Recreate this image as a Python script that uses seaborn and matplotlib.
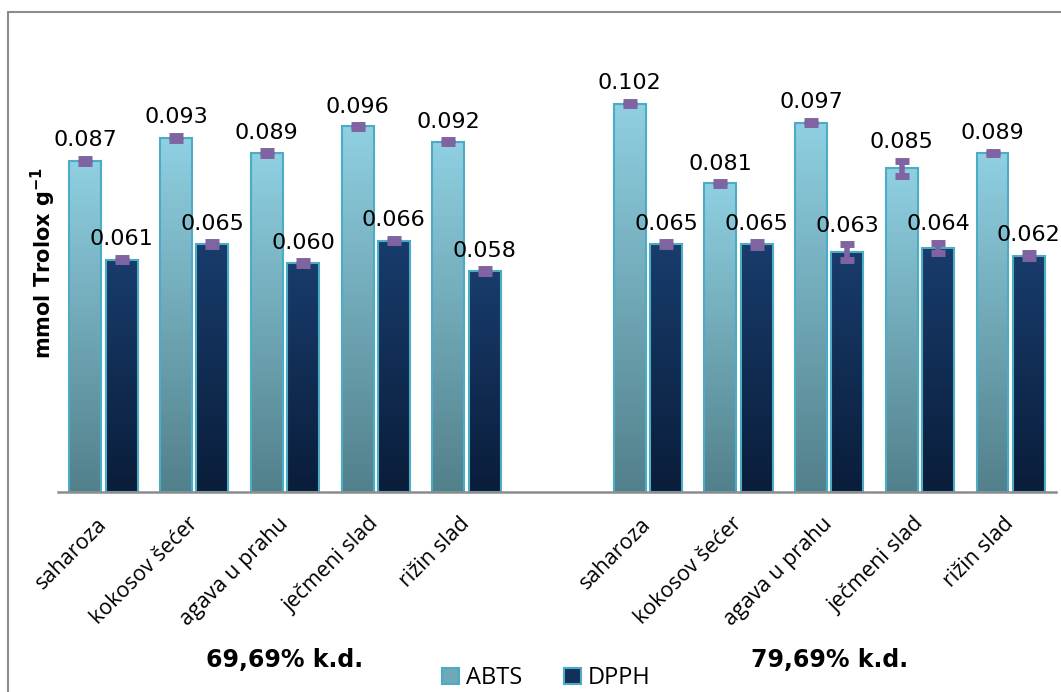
import numpy as np
import pandas as pd
import matplotlib
matplotlib.use('Agg')
import matplotlib.pyplot as plt
import seaborn as sns
from matplotlib.colors import LinearSegmentedColormap
from matplotlib.patches import Rectangle, Patch
from matplotlib.transforms import blended_transform_factory

# data
sweeteners = ['saharoza', 'kokosov šećer', 'agava u prahu', 'ječmeni slad', 'rižin slad']
groups = ['69,69% k.d.', '79,69% k.d.']
methods = ['ABTS', 'DPPH']

abts_69 = [0.087, 0.093, 0.089, 0.096, 0.092]
dpph_69 = [0.061, 0.065, 0.060, 0.066, 0.058]
abts_79 = [0.102, 0.081, 0.097, 0.085, 0.089]
dpph_79 = [0.065, 0.065, 0.063, 0.064, 0.062]

abts_69_err = [0.0005, 0.0005, 0.0005, 0.0003, 0.0003]
dpph_69_err = [0.0005, 0.0005, 0.0005, 0.0005, 0.0005]
abts_79_err = [0.0005, 0.0003, 0.0005, 0.0020, 0.0003]
dpph_79_err = [0.0005, 0.0006, 0.0020, 0.0014, 0.0006]

# long table, one slot key per group+sweetener, empty slot between the groups
rows = []
for g, ab, dp, abe, dpe in [(groups[0], abts_69, dpph_69, abts_69_err, dpph_69_err),
                            (groups[1], abts_79, dpph_79, abts_79_err, dpph_79_err)]:
    for i, s in enumerate(sweeteners):
        rows.append({'slot': g + '|' + s, 'label': s, 'method': 'ABTS', 'value': ab[i], 'err': abe[i]})
        rows.append({'slot': g + '|' + s, 'label': s, 'method': 'DPPH', 'value': dp[i], 'err': dpe[i]})
df = pd.DataFrame(rows)

order = [groups[0] + '|' + s for s in sweeteners] + ['gap'] + [groups[1] + '|' + s for s in sweeteners]
tick_labels = sweeteners + [''] + sweeteners

sns.set_style('white')
plt.rcParams['font.family'] = ['DejaVu Sans']
plt.rcParams['text.color'] = 'black'
plt.rcParams['xtick.color'] = 'black'
plt.rcParams['axes.labelcolor'] = 'black'

fig = plt.figure(figsize=(10.61, 6.92), dpi=100)
ax = fig.add_axes([0.0549, 0.2894, 0.9404, 0.66])

sns.barplot(data=df, x='slot', y='value', hue='method', order=order, hue_order=methods,
            palette=['#86c6d8', '#16355f'], width=0.8, gap=0.12, errorbar=None,
            edgecolor='#4bacc6', linewidth=1.5, legend=False, ax=ax)

ax.set_ylim(0, 0.12)
ax.set_xlim(-0.5, len(order) - 0.5)

grad_colors = {'ABTS': ('#8fd0e2', '#52808b'), 'DPPH': ('#183c6c', '#0a1d3a')}
lookup = df.set_index(['slot', 'method'])

for m, cont in zip(methods, ax.containers):
    top, bottom = grad_colors[m]
    cmap = LinearSegmentedColormap.from_list('g' + m, [bottom, top])
    for bar in cont:
        x0, w, h = bar.get_x(), bar.get_width(), bar.get_height()
        if not np.isfinite(h) or h == 0:
            continue
        im = ax.imshow(np.linspace(0, 1, 256).reshape(-1, 1), extent=[x0, x0 + w, 0, h],
                       origin='lower', aspect='auto', cmap=cmap, zorder=1.5)
        im.set_clip_path(bar)
        bar.set_facecolor('none')
        bar.set_zorder(2)
        xc = x0 + w / 2
        key = order[int(round(xc))]
        v = lookup.loc[(key, m), 'value']
        e = lookup.loc[(key, m), 'err']
        ax.errorbar(xc, v, yerr=e, fmt='none', ecolor='#8064a2', elinewidth=4,
                    capsize=5, capthick=5, zorder=3)
        ax.annotate(f'{v:.3f}', (xc, v + e), xytext=(0, 9), textcoords='offset points',
                    ha='center', va='baseline', fontsize=16, color='black')

ax.set_xlim(-0.5, len(order) - 0.5)
ax.set_ylim(0, 0.12)

ax.set_xticks(range(len(order)))
ax.set_xticklabels(tick_labels, rotation=45, ha='right', va='center', rotation_mode='anchor',
                   fontsize=15.5, family='Open Sans', color='black')
ax.tick_params(axis='x', length=0, pad=21)
ax.set_yticks([])
ax.set_xlabel('')
ax.set_ylabel(r'mmol Trolox g$^{\mathbf{-1}}$', fontsize=15, fontweight='bold', labelpad=0)

for s in ['top', 'right', 'left']:
    ax.spines[s].set_visible(False)
ax.spines['bottom'].set_color('#8c8c8c')
ax.spines['bottom'].set_linewidth(1.8)

# group labels under the sweeteners
tr = blended_transform_factory(ax.transData, fig.transFigure)
ax.text(2, 0.046, groups[0], transform=tr, ha='center', va='center', fontsize=17, fontweight='bold')
ax.text(8, 0.046, groups[1], transform=tr, ha='center', va='center', fontsize=17, fontweight='bold')

handles = [Patch(facecolor='#6fa8b8', edgecolor='#4bacc6', linewidth=1.5),
           Patch(facecolor='#12305a', edgecolor='#4bacc6', linewidth=1.5)]
leg = fig.legend(handles, methods, loc='center', bbox_to_anchor=(0.515, 0.02), ncol=2,
                 frameon=False, handlelength=0.7, handleheight=0.7, handletextpad=0.3,
                 columnspacing=1.8, prop={'family': 'Open Sans', 'size': 17})

# chart frame
fig.add_artist(Rectangle((0.0075, -0.01), 1.0, 0.9927, transform=fig.transFigure,
                         fill=False, edgecolor='#8c8c8c', linewidth=1.5))

fig.savefig('out.png', dpi=100)
